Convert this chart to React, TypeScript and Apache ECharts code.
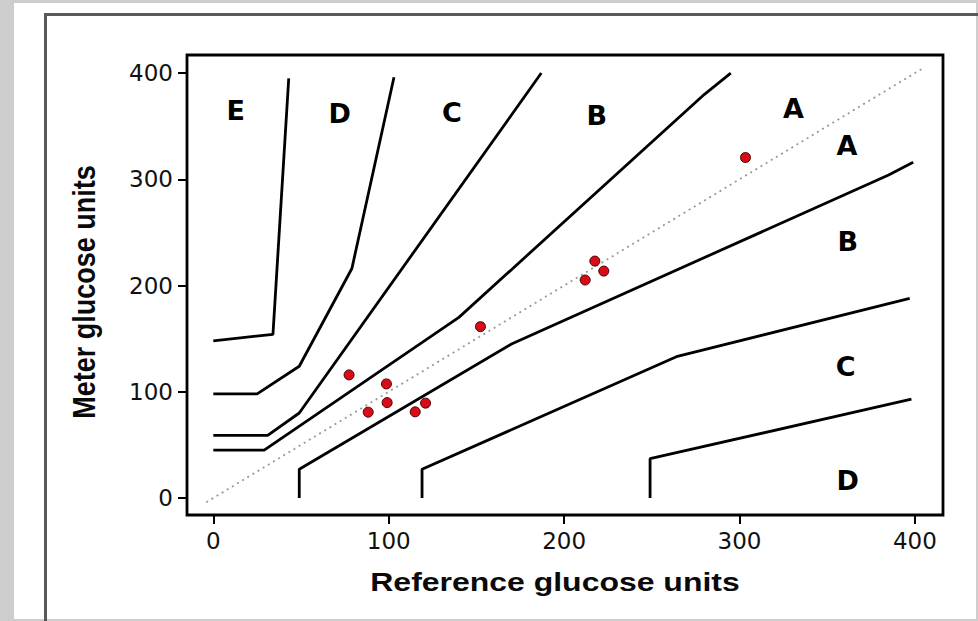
import React, { useEffect, useRef } from "react";
import * as echarts from "echarts";

// Zone boundary lines (reference, meter)
const upperDE = [[0, 148], [34, 154], [43, 395]];
const upperCD = [[0, 98], [25, 98], [49, 124], [79, 216], [103, 396]];
const upperBC = [[0, 59], [31, 59], [49, 80], [187, 400]];
const upperAB = [[0, 45], [29, 45], [140, 170], [280, 380], [295, 400]];
const lowerAB = [[49, 0], [49, 27], [170, 145], [385, 304], [399, 316]];
const lowerBC = [[119, 0], [119, 27], [264, 133], [397, 188]];
const lowerCD = [[249, 0], [249, 37], [398, 93]];
const identityLine = [[-4, -4], [405, 405]];

// Measurements
const referenceValues = [77.4, 88.3, 98.7, 99.1, 115.1, 121.0, 152.3, 217.5, 222.6, 212.0, 303.4];
const meterValues = [115.9, 80.8, 107.4, 89.8, 81.1, 89.3, 161.3, 223.0, 213.6, 205.2, 320.5];

// Zone letters
const zoneLabels = ["E", "D", "C", "B", "A", "A", "B", "C", "D"];
const zoneLabelX = [12.8, 72.1, 136, 218.6, 330.8, 361.3, 361.7, 360.5, 361.7];
const zoneLabelY = [364.7, 362.4, 363, 359.8, 366.5, 331.6, 241.5, 123.7, 16.9];

const tickValues = [0, 100, 200, 300, 400];

export default function App() {
  const ref = useRef<HTMLDivElement>(null);
  useEffect(() => {
    if (!ref.current) return;
    const chart = echarts.init(ref.current, null, { renderer: "svg" });
    const boundary = (data: number[][]) => ({
      type: "line",
      data,
      symbol: "none",
      silent: true,
      lineStyle: { color: "#000", width: 2.8 },
      z: 3,
    });
    const axisCommon = {
      type: "value",
      axisLine: { show: false, onZero: false },
      axisTick: {
        show: true,
        length: 9,
        inside: false,
        customValues: tickValues,
        lineStyle: { color: "#000", width: 2 },
      },
      axisLabel: {
        customValues: tickValues,
        fontFamily: "DejaVu Sans",
        fontSize: 23,
        color: "#111",
        margin: 14,
      },
      splitLine: { show: false },
    };
    chart.setOption({
      animation: false,
      backgroundColor: "transparent",
      grid: {
        left: 187,
        top: 55,
        width: 756,
        height: 460,
        show: true,
        borderColor: "#000",
        borderWidth: 2.8,
        backgroundColor: "transparent",
      },
      xAxis: { ...axisCommon, min: -15, max: 416 },
      yAxis: { ...axisCommon, min: -16, max: 417 },
      graphic: [
        {
          type: "text",
          x: 555,
          y: 582,
          scaleX: 1.23,
          style: {
            text: "Reference glucose units",
            x: 0,
            y: 0,
            textAlign: "center",
            textVerticalAlign: "middle",
            font: "bold 26px 'Liberation Sans'",
            fill: "#0a0a0a",
          },
        },
        {
          type: "text",
          x: 84,
          y: 292,
          rotation: Math.PI / 2,
          scaleY: 1.15,
          style: {
            text: "Meter glucose units",
            x: 0,
            y: 0,
            textAlign: "center",
            textVerticalAlign: "middle",
            font: "bold 27px 'Liberation Sans'",
            fill: "#0a0a0a",
          },
        },
      ],
      series: [
        {
          type: "line",
          data: identityLine,
          symbol: "none",
          silent: true,
          lineStyle: { color: "#999999", width: 1.8, type: [2, 4] },
          z: 2,
        },
        boundary(upperDE),
        boundary(upperCD),
        boundary(upperBC),
        boundary(upperAB),
        boundary(lowerAB),
        boundary(lowerBC),
        boundary(lowerCD),
        {
          type: "scatter",
          data: referenceValues.map((x, i) => [x, meterValues[i]]),
          symbolSize: 10,
          itemStyle: { color: "#d80c18", borderColor: "#4a0000", borderWidth: 1, opacity: 1 },
          z: 5,
        },
        {
          type: "scatter",
          data: zoneLabelX.map((x, i) => ({ value: [x, zoneLabelY[i]], name: zoneLabels[i] })),
          symbolSize: 0,
          itemStyle: { color: "#000" },
          silent: true,
          label: {
            show: true,
            position: "inside",
            formatter: (p: any) => p.name,
            fontFamily: "DejaVu Sans",
            fontWeight: "bold",
            fontSize: 27,
            color: "#000",
            textBorderWidth: 0,
            opacity: 1,
          },
          z: 4,
        },
      ],
    });
    return () => chart.dispose();
  }, []);

  return (
    <div
      style={{
        position: "fixed",
        left: 0,
        top: 0,
        width: 978,
        height: 621,
        background: "#cdcdcd",
        overflow: "hidden",
      }}
    >
      <div
        style={{
          position: "absolute",
          left: 14,
          top: 3,
          width: 962,
          height: 616,
          background: "#ffffff",
        }}
      />
      <div
        style={{
          position: "absolute",
          left: 44,
          top: 13,
          width: 960,
          height: 640,
          borderTop: "3px solid #595959",
          borderLeft: "3px solid #595959",
          boxSizing: "border-box",
        }}
      />
      <div ref={ref} style={{ position: "absolute", left: 0, top: 0, width: 978, height: 621 }} />
    </div>
  );
}
